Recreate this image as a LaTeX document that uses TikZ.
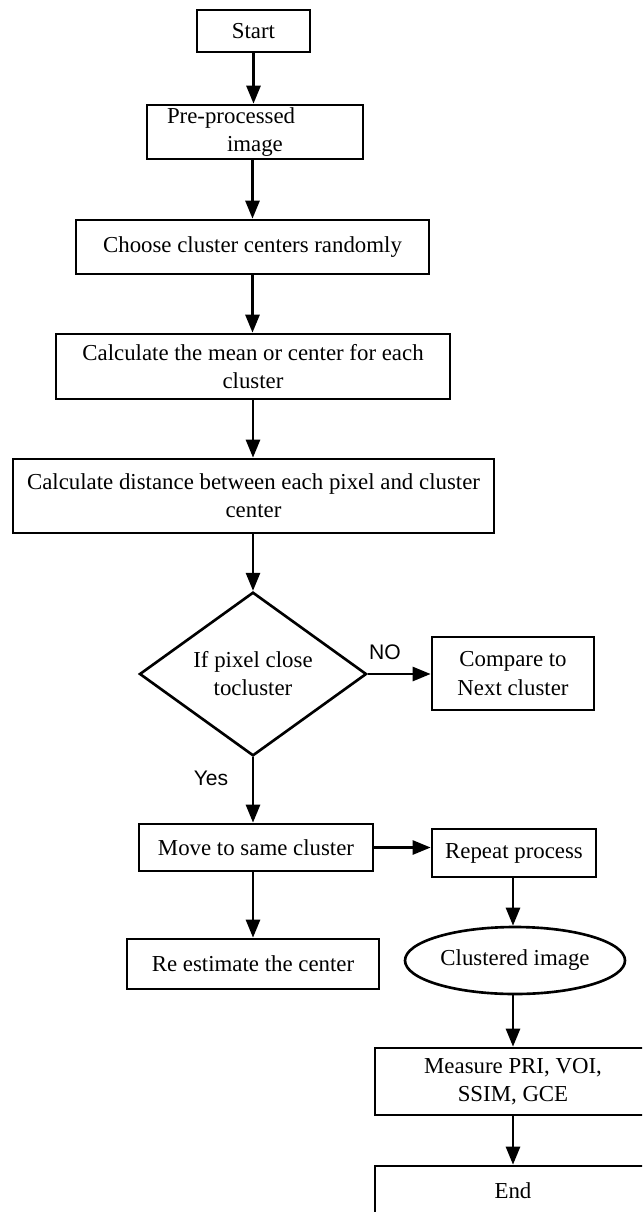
\documentclass[tikz,border=0pt]{standalone}
\usepackage{fontspec}
\setmainfont{Liberation Serif}
\newfontfamily\arialfont{Liberation Sans}
\usetikzlibrary{arrows.meta,shapes.geometric}
\tikzset{
  base/.style={draw=black, line width=1.5pt, font=\fontsize{13}{16}\selectfont, align=center, inner sep=0pt},
  boxnode/.style={base, rectangle},
  decnode/.style={base, diamond},
  ovalnode/.style={base, ellipse},
  lbl/.style={font=\arialfont\fontsize{12}{14}\selectfont, inner sep=0pt},
  conn/.style={line width=1.5pt, -{Triangle[length=0.36cm, width=0.28cm]}}
}
\begin{document}
\begin{tikzpicture}
\useasboundingbox (0,0) rectangle (12.84,-24.24);
\clip (0,0) rectangle (12.84,-24.24);
\fill[white] (0,0) rectangle (12.84,-24.24);

\node[boxnode, minimum width=2.26cm, minimum height=0.84cm] (start) at (5.07,-0.62) {Start};
\node[boxnode, minimum width=4.32cm, minimum height=1.08cm, text width=4.32cm, align=left] (pre) at (5.10,-2.64)
  {\hspace*{0.4cm}Pre-processed\\\hspace*{1.6cm}image};
\node[boxnode, minimum width=7.06cm, minimum height=1.08cm] (choose) at (5.05,-4.94) {Choose cluster centers randomly};
\node[boxnode, minimum width=7.88cm, minimum height=1.30cm] (mean) at (5.06,-7.33) {Calculate the mean or center for each\\cluster};
\node[boxnode, minimum width=9.62cm, minimum height=1.48cm] (dist) at (5.07,-9.92) {Calculate distance between each pixel and cluster\\center};
\node[decnode, minimum width=4.54cm, minimum height=3.22cm] (dec) at (5.06,-13.48) {If pixel close\\tocluster};
\node[boxnode, minimum width=3.24cm, minimum height=1.46cm] (cmp) at (10.26,-13.47) {Compare to\\Next cluster};
\node[boxnode, minimum width=4.68cm, minimum height=0.94cm] (move) at (5.12,-16.95) {Move to same cluster};
\node[boxnode, minimum width=3.28cm, minimum height=0.96cm] (rep) at (10.28,-17.06) {Repeat process};
\node[boxnode, minimum width=5.04cm, minimum height=1.00cm] (reest) at (5.06,-19.28) {Re estimate the center};
\node[ovalnode, minimum width=4.40cm, minimum height=1.34cm] (clus) at (10.30,-19.21) {Clustered image};
\node[boxnode, minimum width=5.52cm, minimum height=1.34cm] (meas) at (10.26,-21.63) {Measure PRI, VOI,\\SSIM, GCE};
\node[boxnode, minimum width=5.52cm, minimum height=1.00cm] (end) at (10.26,-23.82) {End};

\node[lbl] (no) at (7.70,-13.04) {NO};
\node[lbl] (yes) at (4.22,-15.56) {Yes};

\draw[conn] (start.south) -- (start.south |- pre.north);
\draw[conn] (pre.south -| choose.north) -- (choose.north);
\draw[conn] (choose.south) -- (choose.south |- mean.north);
\draw[conn] (mean.south) -- (mean.south |- dist.north);
\draw[conn] (dist.south -| dec.north) -- (dec.north);
\draw[conn] (dec.east) -- (dec.east -| cmp.west);
\draw[conn] (dec.south) -- (dec.south |- move.north);
\draw[conn] (move.east) -- (move.east -| rep.west);
\draw[conn] (move.south -| reest.north) -- (reest.north);
\draw[conn] (rep.south -| meas.north) -- (meas.north |- clus.north);
\draw[conn] (clus.south -| meas.north) -- (meas.north);
\draw[conn] (meas.south) -- (end.north);
\end{tikzpicture}
\end{document}
